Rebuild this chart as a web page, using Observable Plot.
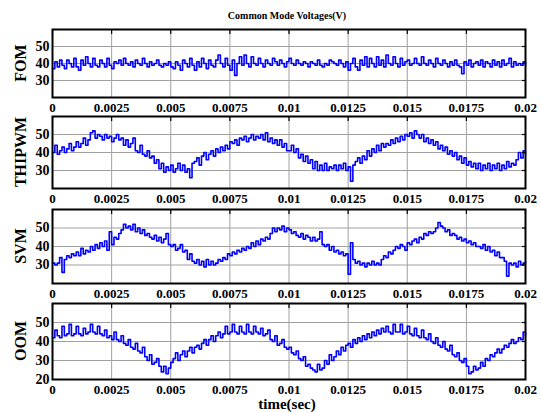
<!DOCTYPE html>
<html><head><meta charset="utf-8">
<script src="https://cdn.jsdelivr.net/npm/d3@7"></script>
<script src="https://cdn.jsdelivr.net/npm/@observablehq/plot@0.6"></script>
<style>
body{margin:0;background:#fff;}
#root{position:relative;width:541px;height:412px;font-family:"Liberation Serif","Times New Roman",serif;font-weight:bold;color:#000;overflow:hidden;}
#root svg{position:absolute;left:0;}
#root svg text{font-family:"Liberation Serif","Times New Roman",serif !important;font-weight:bold;}
.title{position:absolute;left:0;width:574px;text-align:center;top:10px;font-size:10px;line-height:12px;}
.xlab{position:absolute;left:0;width:574px;text-align:center;top:397px;font-size:15px;line-height:15px;}
.ylab{position:absolute;font-size:16px;line-height:16px;white-space:nowrap;transform:translate(-50%,-50%) rotate(-90deg);}
</style></head><body><div id="root"></div>
<script>
// sampling interval of the traces (s)
const sampleStep = 0.0001;
const xTicks = [0, 0.0025, 0.005, 0.0075, 0.01, 0.0125, 0.015, 0.0175, 0.02];
const xTickLabels = ["0","0.0025","0.005","0.0075","0.01","0.0125","0.015","0.0175","0.02"];
const seriesNames = ["FOM", "THIPWM", "SVM", "OOM"];
const yTicksFOM = [30, 40, 50];
const yTicksTHIPWM = [30, 40, 50];
const yTicksSVM = [30, 40, 50];
const yTicksOOM = [20, 30, 40, 50];

const fom = [
37,41,38,42,39,37,42,40,38,43,
38,36,42,39,44,40,38,43,39,38,
42,40,38,43,39,37,41,40,42,39,
43,40,39,41,38,42,40,39,43,40,
38,41,39,40,42,39,38,40,39,41,
38,37,41,39,36,42,40,38,43,39,
36,41,38,43,40,37,42,39,38,42,
45,40,38,43,39,36,42,33,40,44,
39,45,40,38,44,40,39,43,40,38,
42,40,39,43,41,39,42,40,38,41,
43,40,39,42,40,39,41,40,38,41,
40,39,42,39,38,40,39,42,41,40,
39,42,40,38,41,36,40,43,38,36,
42,39,44,38,43,40,38,44,39,42,
38,45,40,39,44,40,38,43,39,41,
42,39,40,43,40,39,44,40,39,42,
40,38,43,40,39,42,40,38,41,39,
42,39,38,34,41,39,42,38,40,41,
39,42,38,41,40,38,42,39,41,38,
42,39,40,43,38,41,39,40,39,41,
39];

const thipwm = [
40,44,39,41,43,40,42,45,41,43,
46,43,45,48,44,47,51,52,48,50,
49,47,50,48,49,46,48,50,47,48,
44,47,43,45,48,41,40,44,39,38,
41,37,38,34,36,31,34,29,32,30,
33,29,31,34,30,33,29,31,26,34,
35,37,33,38,40,36,39,41,38,42,
40,43,41,44,42,46,45,47,44,48,
47,49,46,48,50,47,49,48,50,47,
51,46,48,45,47,44,47,43,45,41,
41,44,40,42,37,39,35,38,34,36,
31,35,30,33,30,34,30,32,31,33,
30,33,31,34,30,32,24,33,35,37,
34,38,36,41,38,42,40,44,41,45,
43,45,44,47,45,48,46,49,47,50,
49,51,48,52,50,48,50,46,48,45,
47,44,46,42,44,41,43,39,41,38,
40,36,38,34,37,33,35,32,34,31,
34,30,33,31,34,30,33,31,34,30,
33,31,35,32,34,33,36,40,37,41,
39];

const svm = [
31,30,31,34,26,33,35,34,36,35,
37,35,39,36,38,37,40,38,41,39,
42,40,43,38,48,41,45,44,47,49,
52,50,51,49,52,48,50,47,49,46,
47,45,44,46,43,45,42,44,47,41,
40,41,38,39,41,37,38,33,36,32,
31,33,30,32,29,33,30,32,30,31,
33,32,34,33,36,35,37,36,38,37,
39,38,40,39,42,40,43,41,44,43,
45,44,47,50,48,50,49,51,48,50,
49,47,48,46,45,47,44,46,45,43,
45,43,44,48,41,40,41,38,40,37,
38,36,37,35,36,25,42,33,31,32,
30,31,29,31,30,32,30,31,30,33,
35,34,37,36,38,40,39,41,40,38,
42,41,43,44,42,45,44,47,46,48,
47,48,50,53,51,50,48,49,46,47,
46,44,45,43,44,42,43,41,42,40,
40,39,41,38,40,37,38,35,37,34,
34,32,24,31,30,31,29,32,30,31,
32];

const oom = [
42,46,43,42,48,43,44,49,43,44,
48,44,43,47,44,45,49,45,44,48,
44,43,46,42,43,41,45,41,40,43,
39,38,41,37,36,39,35,34,37,32,
30,33,28,29,31,27,24,27,23,26,
29,31,34,30,33,35,32,35,37,34,
37,38,36,39,41,38,41,43,40,43,
45,42,44,48,44,45,49,45,44,48,
45,44,49,45,44,48,45,44,47,43,
44,46,41,40,43,38,39,41,37,36,
37,34,33,35,31,30,32,27,28,26,
25,24,28,25,26,30,28,33,30,32,
35,33,37,35,38,39,37,41,39,42,
40,43,41,44,42,45,43,46,44,47,
45,48,45,44,49,45,45,49,44,45,
48,44,43,47,43,42,46,42,41,44,
40,39,42,38,37,40,36,35,38,33,
32,34,30,29,31,27,23,24,27,25,
26,29,27,31,30,33,32,34,36,34,
36,38,37,39,41,39,40,42,41,45,
43];

const seriesValues = [fom, thipwm, svm, oom];
const seriesYTicks = [yTicksFOM, yTicksTHIPWM, yTicksSVM, yTicksOOM];

// layout (pixel frame positions per panel)
const layout = [
  {top: 29, bottom: 97},
  {top: 116, bottom: 188},
  {top: 209, bottom: 283},
  {top: 303, bottom: 379}
];

const root = document.getElementById("root");
const title = document.createElement("div");
title.className = "title";
title.textContent = "Common Mode Voltages(V)";
root.appendChild(title);

const mT = 6, mB = 16;
seriesNames.forEach((name, k) => {
  const data = seriesValues[k].map((v, i) => ({t: i * sampleStep, v}));
  const L = layout[k];
  const yt = seriesYTicks[k];
  const chart = Plot.plot({
    width: 541,
    height: (L.bottom - L.top) + mT + mB,
    marginLeft: 52, marginRight: 16, marginTop: mT, marginBottom: mB,
    x: {domain: [0, 0.02]},
    y: {domain: [20, 60]},
    style: {fontFamily: '"Liberation Serif","Times New Roman",serif', fontWeight: "bold", background: "transparent", overflow: "visible", color: "#000"},
    marks: [
      Plot.gridX(xTicks, {stroke: "#a0a0a0", strokeOpacity: 1, strokeWidth: 1}),
      Plot.gridY([30, 40, 50], {stroke: "#a0a0a0", strokeOpacity: 1, strokeWidth: 1}),
      Plot.line(data, {x: "t", y: "v", stroke: "#0000ff", strokeWidth: 1.6, curve: "step-after"}),
      Plot.axisX(xTicks, {anchor: "bottom", tickSize: 0, tickPadding: 5, fontSize: 13, label: null,
        tickFormat: d => xTickLabels[xTicks.indexOf(d)]}),
      Plot.axisY(yt, {anchor: "left", tickSize: 0, tickPadding: 3, fontSize: 14, label: null}),
      Plot.axisX(xTicks, {anchor: "top", tickSize: -4, text: null, label: null, strokeWidth: 1.2}),
      Plot.axisY([30, 40, 50], {anchor: "right", tickSize: -4, text: null, label: null, strokeWidth: 1.2}),
      Plot.frame({stroke: "#000", strokeWidth: 2})
    ]
  });
  chart.style.top = (L.top - mT) + "px";
  root.appendChild(chart);
  const yl = document.createElement("div");
  yl.className = "ylab";
  yl.textContent = name;
  yl.style.left = "21px";
  yl.style.top = ((L.top + L.bottom) / 2) + "px";
  root.appendChild(yl);
});

const xl = document.createElement("div");
xl.className = "xlab";
xl.textContent = "time(sec)";
root.appendChild(xl);
</script>
</body></html>
